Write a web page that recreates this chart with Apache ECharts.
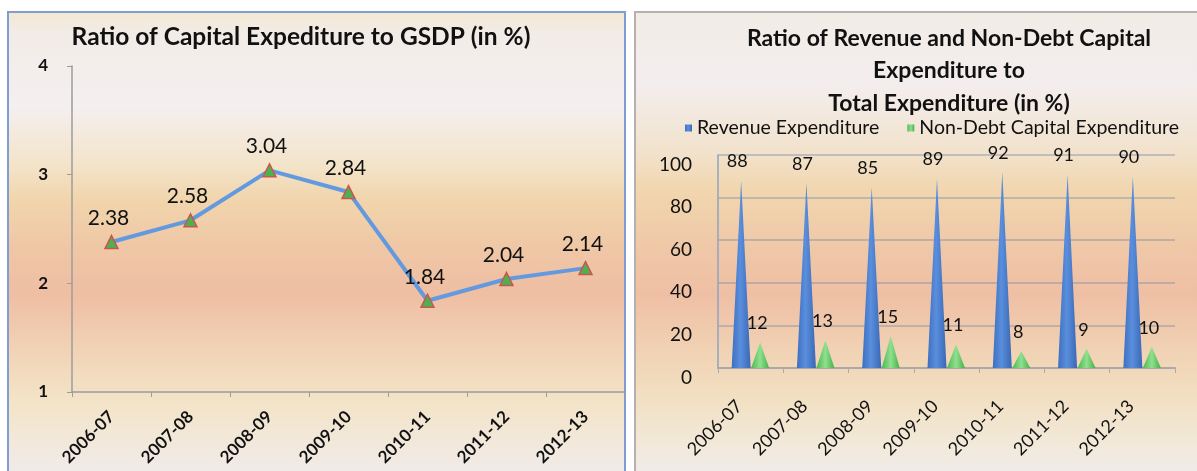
<!DOCTYPE html>
<html><head><meta charset="utf-8">
<script src="https://cdn.jsdelivr.net/npm/echarts@6/dist/echarts.min.js"></script>
<style>html,body{margin:0;padding:0;background:#fff}#c{width:1197px;height:471px}</style>
</head><body><div id="c"></div>
<script>
const years = ['2006-07','2007-08','2008-09','2009-10','2010-11','2011-12','2012-13'];
const capexToGsdp = [2.38, 2.58, 3.04, 2.84, 1.84, 2.04, 2.14];
const revenueExp = [88, 87, 85, 89, 92, 91, 90];
const nonDebtCapExp = [12, 13, 15, 11, 8, 9, 10];
const seriesNames = ['Revenue Expenditure', 'Non-Debt Capital Expenditure'];

const FONT = 'Lato, "Noto Sans", sans-serif';
function vgrad(stops){ return new echarts.graphic.LinearGradient(0,0,0,1, stops.map(s=>({offset:s[0],color:s[1]}))); }
function hgrad(stops){ return new echarts.graphic.LinearGradient(0,0,1,0, stops.map(s=>({offset:s[0],color:s[1]}))); }

const chart = echarts.init(document.getElementById('c'), null, {renderer:'canvas'});
chart.setOption({
  animation: false,
  textStyle: {fontFamily: FONT},
  graphic: [
    {type:'rect', z:-10, shape:{x:8,y:12,width:617,height:470},
     style:{lineWidth:2, stroke:'#7f9dd2', fill: vgrad([[0,'#f3e8d2'],[0.05,'#f2ece8'],[0.2,'#f4eff0'],[0.33,'#f3e3c8'],[0.4,'#f1d5ac'],[0.5,'#efc7a6'],[0.6,'#efbea3'],[0.72,'#f1d3b6'],[0.82,'#f3e3c6'],[0.92,'#f2e9dc'],[1,'#efebef']])}},
    {type:'rect', z:-10, shape:{x:635,y:12,width:570,height:470},
     style:{lineWidth:2, stroke:'#b7b0b0', fill: vgrad([[0,'#f2ece6'],[0.15,'#f3eeee'],[0.3,'#f2e2cc'],[0.38,'#f1d6ae'],[0.5,'#efc8a8'],[0.6,'#efbfa4'],[0.72,'#f1d2b4'],[0.82,'#f2e0c2'],[0.92,'#f2e9da'],[1,'#f0ecee']])}}
  ],
  title: [
    {text:'Ratio of Capital Expediture to GSDP (in %)', left:296, top:20, textAlign:'center',
     textStyle:{fontFamily:FONT, fontSize:24.5, fontWeight:'bold', color:'#111'}},
    {text:'Ratio of Revenue and Non-Debt Capital\nExpenditure to\nTotal Expenditure (in %)', left:944, top:17, textAlign:'center',
     textStyle:{fontFamily:FONT, fontSize:23, fontWeight:'bold', color:'#111', lineHeight:32.5}}
  ],
  legend: {
    data: seriesNames, left:680, top:113, icon:'rect', itemWidth:7, itemHeight:7, itemGap:28,
    textStyle:{fontFamily:FONT, fontSize:19.5, color:'#111'}
  },
  grid: [
    {left:72, width:553, top:66, bottom:79},
    {left:718, width:457, top:155, bottom:103}
  ],
  xAxis: [
    {type:'category', gridIndex:0, data:years,
     axisLine:{lineStyle:{color:'#9c9c9c', width:1.5}},
     axisTick:{show:true, length:5, lineStyle:{color:'#9c9c9c'}},
     axisLabel:{rotate:45, margin:22, fontSize:17, fontWeight:'bold', color:'#111', fontFamily:FONT}},
    {type:'category', gridIndex:1, data:years, offset:8,
     axisLine:{lineStyle:{color:'#aaaaaa', width:2}},
     axisTick:{show:true, length:5, lineStyle:{color:'#aaaaaa'}},
     axisLabel:{rotate:45, margin:16, padding:[0,16,0,0], fontSize:18, color:'#111', fontFamily:FONT}}
  ],
  yAxis: [
    {type:'value', gridIndex:0, min:1, max:4, interval:1,
     axisLine:{show:true, lineStyle:{color:'#9c9c9c', width:1.5}},
     axisTick:{show:true, length:5, lineStyle:{color:'#9c9c9c'}},
     splitLine:{show:false},
     axisLabel:{fontSize:17, fontWeight:'bold', color:'#111', margin:24, fontFamily:FONT}},
    {type:'value', gridIndex:1, min:0, max:100, interval:20,
     axisLine:{show:true, lineStyle:{color:'#8ea3c2', width:1.5}},
     axisTick:{show:false},
     splitLine:{show:true, lineStyle:{color:'rgba(125,140,165,0.55)', width:1.5}},
     axisLabel:{fontSize:19, color:'#111', margin:26, verticalAlign:'top', fontFamily:FONT}}
  ],
  series: [
    {type:'line', xAxisIndex:0, yAxisIndex:0, data:capexToGsdp,
     symbol:'triangle', symbolSize:13,
     lineStyle:{color:'#639adf', width:4},
     itemStyle:{color:'#4fb04f', borderColor:'#c8584f', borderWidth:1.5},
     label:{show:true, position:'top', offset:[-3,-1], fontSize:21, color:'#111', fontFamily:FONT}},
    {type:'pictorialBar', name:seriesNames[0], xAxisIndex:1, yAxisIndex:1, data:revenueExp,
     symbol:'triangle', symbolSize:[19,'100%'], barWidth:19, barGap:'0%',
     itemStyle:{color: hgrad([[0,'#3d6fc0'],[0.45,'#5a8fdd'],[1,'#3a68b5']])},
     label:{show:true, position:'top', offset:[-4,-5], fontSize:18, color:'#111', fontFamily:FONT}},
    {type:'pictorialBar', name:seriesNames[1], xAxisIndex:1, yAxisIndex:1, data:nonDebtCapExp,
     symbol:'triangle', symbolSize:[18,'100%'], barWidth:19, barGap:'0%',
     itemStyle:{color: hgrad([[0,'#4fb74f'],[0.5,'#8fe08f'],[1,'#4aaf4a']])},
     label:{show:true, position:'top', offset:[-3,-5], fontSize:18, color:'#111', fontFamily:FONT}}
  ]
});
</script></body></html>
